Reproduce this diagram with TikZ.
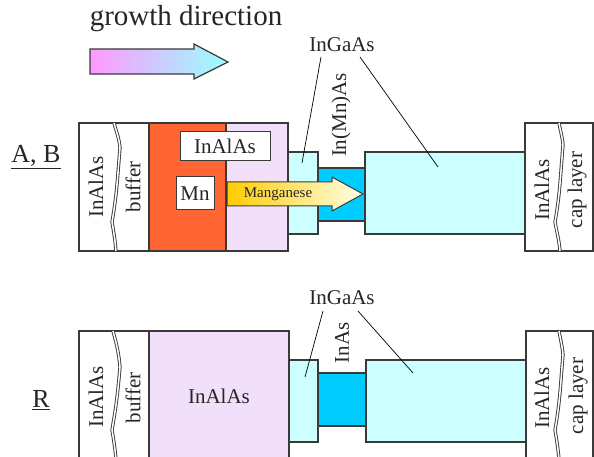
\documentclass[tikz,border=0pt]{standalone}
\usepackage{fontspec}
\setmainfont{Liberation Serif}
\definecolor{edge}{HTML}{3A3A3A}
\definecolor{mnorange}{HTML}{FF6633}
\definecolor{lilac}{HTML}{F2E0FA}
\definecolor{lcyan}{HTML}{CCFFFF}
\definecolor{dcyan}{HTML}{00CCFF}
\tikzset{
  layer/.style={draw=edge, line width=1.2pt, inner sep=0pt, outer sep=0pt, anchor=north west},
  wiggle/.style={draw=edge, line width=0.9pt, double=white, double distance=1.5pt},
  lbl/.style={font=\fontsize{21}{24}\selectfont, inner sep=0pt, text=black!85},
  vlbl/.style={lbl, rotate=90},
  leader/.style={draw=black, line width=0.7pt},
  bigarrow/.style={draw=edge, line width=1.2pt},
}
\begin{document}
\begin{tikzpicture}[x=1pt,y=-1pt]
\useasboundingbox (0,0) rectangle (594,457);
\clip (0,0) rectangle (594,457);
\fill[white] (0,0) rectangle (594,457);

% growth direction
\node[font=\fontsize{29}{32}\selectfont, text=black!85, inner sep=0pt] (growth) at (186,19) {growth direction};
\draw[bigarrow, left color=magenta!40, right color=cyan!40]
  (90,49) -- (194,49) -- (194,44) -- (228,62) -- (194,79) -- (194,74) -- (90,74) -- cycle;

% ===== Row A, B =====
\node[font=\fontsize{26}{30}\selectfont, inner sep=0pt, text=black!85] (rowAB) at (36,157) {\underline{A, B}};
\node[layer, fill=white, minimum width=70pt, minimum height=128pt] (leftA) at (79,123) {};
\draw[wiggle] (114,123) to[out=-75,in=95] (120,148) to[out=-95,in=80] (112,222) to[out=-80,in=95] (116,251);
\node[vlbl] (leftAtxt) at (96,187) {InAlAs};
\node[vlbl] (bufA) at (133,187) {buffer};
\node[layer, fill=mnorange, minimum width=77pt, minimum height=128pt] (mnA) at (149,123) {};
\node[layer, fill=lilac, minimum width=62pt, minimum height=128pt] (purA) at (226,123) {};
\node[layer, fill=white, minimum width=90pt, minimum height=29pt, line width=1pt] (inalasbox) at (180,132) {};
\node[lbl] (inalasA) at (inalasbox.center) {InAlAs};
\node[layer, fill=white, minimum width=38pt, minimum height=33pt, line width=1pt] (mnbox) at (176,177) {};
\node[lbl] (mntxt) at (mnbox.center) {Mn};
\node[layer, fill=lcyan, minimum width=30pt, minimum height=82pt] (gaA1) at (288,152) {};
\node[layer, fill=dcyan, minimum width=47pt, minimum height=53pt] (mnasA) at (318,168) {};
\node[layer, fill=lcyan, minimum width=160pt, minimum height=82pt] (gaA2) at (365,152) {};
\node[layer, fill=white, minimum width=68pt, minimum height=128pt] (rightA) at (525,123) {};
\draw[wiggle] (559,123) to[out=-80,in=95] (563,145) to[out=-95,in=80] (555,222) to[out=-80,in=95] (560,251);
\node[vlbl] (rightAtxt) at (542,190) {InAlAs};
\node[vlbl] (capA) at (577,190) {cap layer};
\draw[edge, line width=1pt, left color=orange!40!yellow, right color=yellow!8]
  (227,182) -- (332,182) -- (332,177) -- (363,194) -- (332,211) -- (332,206) -- (227,206) -- cycle;
\node[font=\fontsize{15}{16}\selectfont, inner sep=0pt, text=black!85] (mang) at (278,194) {Manganese};
\node[vlbl] (mnaslbl) at (341,115) {In(Mn)As};
\node[lbl] (gaAlbl) at (342,45) {InGaAs};
\coordinate (gaAs1) at (321,57);
\coordinate (gaAs2) at (360,57);
\coordinate (gaAe1) at (302,163);
\coordinate (gaAe2) at (438,167);
\draw[leader] (gaAs1) -- (gaAe1);
\draw[leader] (gaAs2) -- (gaAe2);

% ===== Row R =====
\node[font=\fontsize{26}{30}\selectfont, inner sep=0pt, text=black!85] (rowR) at (41,400) {\underline{R}};
\node[layer, fill=white, minimum width=70pt, minimum height=140pt] (leftR) at (79,331) {};
\draw[wiggle] (113,331) to[out=-75,in=95] (120,367) to[out=-95,in=80] (112,430) to[out=-80,in=95] (117,470);
\node[vlbl] (leftRtxt) at (96,397) {InAlAs};
\node[vlbl] (bufR) at (133,398) {buffer};
\node[layer, fill=lilac, minimum width=140pt, minimum height=140pt] (purR) at (149,331) {};
\node[lbl] (inalasR) at (219,396) {InAlAs};
\node[layer, fill=lcyan, minimum width=29pt, minimum height=82pt] (gaR1) at (289,360) {};
\node[layer, fill=dcyan, minimum width=48pt, minimum height=53pt] (inasR) at (318,373) {};
\node[layer, fill=lcyan, minimum width=160pt, minimum height=82pt] (gaR2) at (366,360) {};
\node[layer, fill=white, minimum width=67pt, minimum height=140pt] (rightR) at (526,331) {};
\draw[wiggle] (559,331) to[out=-80,in=95] (563,355) to[out=-95,in=80] (555,430) to[out=-80,in=95] (560,470);
\node[vlbl] (rightRtxt) at (542,398) {InAlAs};
\node[vlbl] (capR) at (578,396) {cap layer};
\node[vlbl] (inaslbl) at (342,343) {InAs};
\node[lbl] (gaRlbl) at (342,298) {InGaAs};
\coordinate (gaRs1) at (323,311);
\coordinate (gaRs2) at (358,311);
\coordinate (gaRe1) at (305,377);
\coordinate (gaRe2) at (413,373);
\draw[leader] (gaRs1) -- (gaRe1);
\draw[leader] (gaRs2) -- (gaRe2);
\end{tikzpicture}
\end{document}
